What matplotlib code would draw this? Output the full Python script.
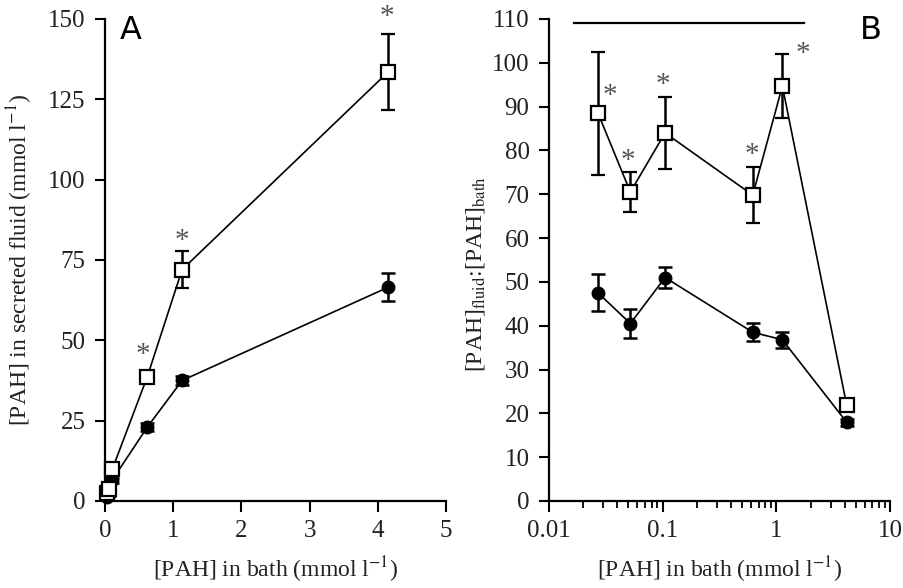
import matplotlib
matplotlib.use("Agg")
import numpy as np
import matplotlib.pyplot as plt
from matplotlib.ticker import LogLocator, NullFormatter

plt.rcParams["font.family"] = ["Liberation Serif", "DejaVu Serif"]
plt.rcParams["mathtext.fontset"] = "stix"

# bath concentrations (mmol l-1)
bath = [0.027, 0.052, 0.105, 0.62, 1.13, 4.15]

# panel A: [PAH] in secreted fluid
a_open = [2.4, 3.8, 9.8, 38.7, 72.0, 133.5]
a_open_err = [0.8, 1.0, 1.2, 1.8, 5.7, 11.8]
a_fill = [1.3, 2.3, 6.5, 23.0, 37.5, 66.5]
a_fill_err = [0.5, 0.6, 0.8, 1.2, 1.5, 4.3]
a_stars = [(0.55, 45.5), (1.12, 81.0), (4.14, 150.5)]

# panel B: fluid:bath ratio
b_open = [88.5, 70.5, 84.0, 69.8, 94.7, 22.0]
b_open_err = [14.0, 4.5, 8.3, 6.4, 7.3, 0.8]
b_fill = [47.5, 40.5, 51.0, 38.5, 36.8, 18.0]
b_fill_err = [4.2, 3.4, 2.4, 2.1, 1.8, 0.8]
b_stars = [(0.034, 92.5), (0.049, 77.5), (0.1, 95.0), (0.61, 79.0), (1.7, 102.0)]
b_line = [0.0166, 1.75]
b_line_y = 109.0

fig = plt.figure(figsize=(9.04, 5.88), dpi=100)
axA = fig.add_axes([0.1162, 0.148, 0.3772, 0.8197])
axB = fig.add_axes([0.6073, 0.148, 0.3772, 0.8197])

fs = 18
lfs = 17
txt = "#222222"
star = "#555555"
ekw = dict(color="black", elinewidth=1.8, capsize=5, capthick=1.8, lw=1.2, clip_on=False, zorder=3)

for ax in (axA, axB):
    for s in ("top", "right"):
        ax.spines[s].set_visible(False)
    for s in ("left", "bottom"):
        ax.spines[s].set_linewidth(1.6)
    ax.tick_params(direction="out", width=1.5, labelsize=fs, labelcolor=txt)
    ax.tick_params(axis="y", length=7, pad=7)
    ax.tick_params(axis="x", length=8, pad=6)

# panel A
axA.errorbar(bath, a_fill, yerr=a_fill_err, fmt="o", ms=9, mfc="black", mec="black", ls="-", **ekw)
axA.errorbar(bath, a_open, yerr=a_open_err, fmt="s", ms=10.5, mfc="white", mec="black", mew=1.6, ls="-", **ekw)
for x, y in a_stars:
    axA.text(x, y, "*", ha="center", va="center", fontsize=21, color=star, clip_on=False)
axA.set_xlim(0, 5)
axA.set_ylim(0, 150)
axA.set_xticks(range(0, 6))
axA.set_yticks(range(0, 151, 25))
axA.text(0.076, 0.977, "A", transform=axA.transAxes, fontsize=23, family="DejaVu Sans",
         ha="center", va="center")
axA.set_xlabel("[PAH] in bath (mmol l$^{-1}$)", fontsize=lfs, color=txt)
axA.xaxis.set_label_coords(0.5, -0.112)
axA.set_ylabel("[PAH] in secreted fluid (mmol l$^{-1}$)", fontsize=lfs, color=txt)
axA.yaxis.set_label_coords(-0.205, 0.5)

# panel B
axB.errorbar(bath, b_fill, yerr=b_fill_err, fmt="o", ms=9, mfc="black", mec="black", ls="-", **ekw)
axB.errorbar(bath, b_open, yerr=b_open_err, fmt="s", ms=10.5, mfc="white", mec="black", mew=1.6, ls="-", **ekw)
for x, y in b_stars:
    axB.text(x, y, "*", ha="center", va="center", fontsize=21, color=star)
axB.plot(b_line, [b_line_y, b_line_y], color="black", lw=1.6, clip_on=False)
axB.set_xscale("log")
axB.set_xlim(0.01, 10)
axB.set_ylim(0, 110)
axB.set_xticks([0.01, 0.1, 1, 10])
axB.set_xticklabels(["0.01", "0.1", "1", "10"])
axB.xaxis.set_minor_locator(LogLocator(base=10, subs=np.arange(2, 10)))
axB.xaxis.set_minor_formatter(NullFormatter())
axB.tick_params(which="minor", direction="out", length=5, width=1.3)
axB.set_yticks(range(0, 111, 10))
axB.text(0.944, 0.977, "B", transform=axB.transAxes, fontsize=23, family="DejaVu Sans",
         ha="center", va="center")
axB.set_xlabel("[PAH] in bath (mmol l$^{-1}$)", fontsize=lfs, color=txt)
axB.xaxis.set_label_coords(0.5, -0.112)
axB.set_ylabel("[PAH]$_{\\mathrm{fluid}}$:[PAH]$_{\\mathrm{bath}}$", fontsize=lfs, color=txt)
axB.yaxis.set_label_coords(-0.182, 0.47)

fig.savefig("out.png", dpi=100)
